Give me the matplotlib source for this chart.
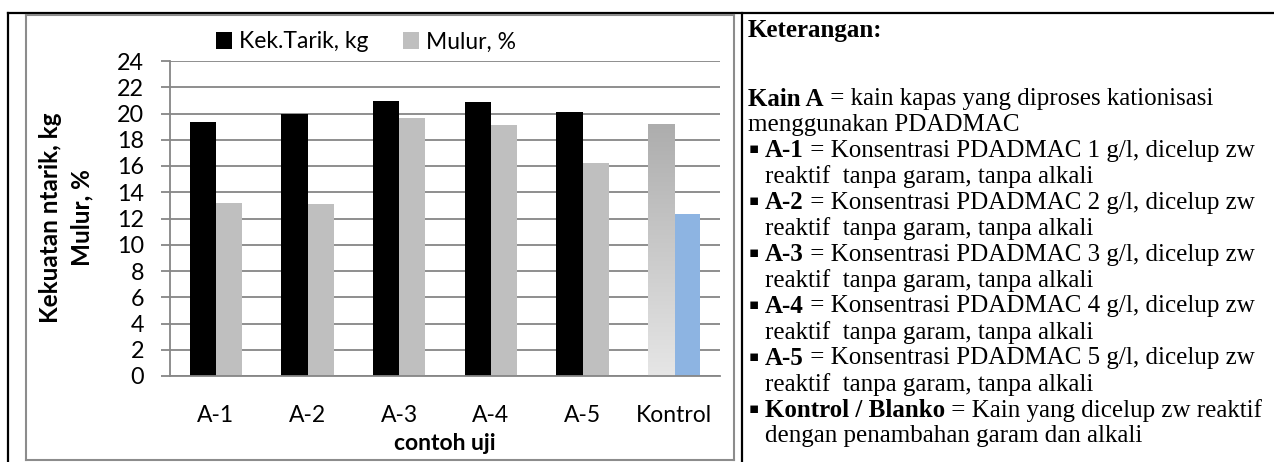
import matplotlib
matplotlib.use("Agg")
import matplotlib.pyplot as plt
import numpy as np
from matplotlib.patches import Patch
from matplotlib.lines import Line2D

categories = ["A-1", "A-2", "A-3", "A-4", "A-5", "Kontrol"]
kek_tarik = [19.35, 19.95, 20.95, 20.9, 20.1, 19.2]
mulur = [13.2, 13.1, 19.65, 19.1, 16.2, 12.35]
y_ticks = list(range(0, 25, 2))
series_labels = ["Kek.Tarik, kg", "Mulur, %"]
ylabel_text = "Kekuatan ntarik, kg\nMulur, %"
xlabel_text = "contoh uji"

notes_title = "Keterangan:"
notes = [
    ("", "Kain A", " = kain kapas yang diproses kationisasi"),
    ("", "", "menggunakan PDADMAC"),
    ("b", "A-1", " = Konsentrasi PDADMAC 1 g/l, dicelup zw"),
    ("i", "", "reaktif  tanpa garam, tanpa alkali"),
    ("b", "A-2", " = Konsentrasi PDADMAC 2 g/l, dicelup zw"),
    ("i", "", "reaktif  tanpa garam, tanpa alkali"),
    ("b", "A-3", " = Konsentrasi PDADMAC 3 g/l, dicelup zw"),
    ("i", "", "reaktif  tanpa garam, tanpa alkali"),
    ("b", "A-4", " = Konsentrasi PDADMAC 4 g/l, dicelup zw"),
    ("i", "", "reaktif  tanpa garam, tanpa alkali"),
    ("b", "A-5", " = Konsentrasi PDADMAC 5 g/l, dicelup zw"),
    ("i", "", "reaktif  tanpa garam, tanpa alkali"),
    ("b", "Kontrol / Blanko", " = Kain yang dicelup zw reaktif"),
    ("i", "", "dengan penambahan garam dan alkali"),
]

W, H = 1274, 462
fig = plt.figure(figsize=(W / 100, H / 100), dpi=100)
fig.patch.set_facecolor("white")


def fx(px):
    return px / W


def fy(py):
    return 1 - py / H


# plot area
ax = fig.add_axes([fx(170), fy(376), fx(720) - fx(170), fy(61) - fy(376)])
ax.set_facecolor("white")

x = np.arange(len(categories))
w = 1 / 3.5
grid_c = "#868686"
ax.set_yticks(y_ticks)
for t in y_ticks:
    ax.axhline(t, color=grid_c, lw=1.3, zorder=0)

bars1 = ax.bar(x - w / 2, kek_tarik, w, color="#000000", zorder=2)
bars2 = ax.bar(x + w / 2, mulur, w, color="#bfbfbf", zorder=2)

# Kontrol bars have their own fills
kb = bars1[-1]
kb.set_facecolor("none")
grad = np.linspace(0, 1, 256).reshape(-1, 1)
cmap = matplotlib.colors.LinearSegmentedColormap.from_list("g", ["#e6e6e6", "#adadad"])
bx, by = kb.get_x(), kb.get_y()
im = ax.imshow(grad, extent=(bx, bx + kb.get_width(), by, by + kb.get_height()),
               origin="lower", cmap=cmap, aspect="auto", zorder=2)
im.set_clip_path(kb)
bars2[-1].set_facecolor("#8db4e2")
ax.set_xlim(-0.5, len(categories) - 0.5)
ax.set_ylim(0, 24)

for s in ["top", "right"]:
    ax.spines[s].set_visible(False)
for s in ["left", "bottom"]:
    ax.spines[s].set_color(grid_c)
    ax.spines[s].set_linewidth(1.3)

lab_font = "Lato"
ax.set_xticks(x)
ax.set_xticklabels(categories, fontsize=16.5, family=lab_font)
ax.tick_params(axis="x", length=0, pad=21)
ax.tick_params(axis="y", length=6.5, width=1.3, color=grid_c, pad=12, labelsize=16.8)
for lab in ax.get_yticklabels():
    lab.set_family(lab_font)

fig.text(fx(66), fy(218), ylabel_text, rotation=90, ha="center", va="center",
         multialignment="center", fontsize=17.5, fontweight="bold", family=lab_font,
         linespacing=1.45)
fig.text(fx(445), fy(443), xlabel_text, ha="center", va="center", fontsize=16.5,
         fontweight="bold", family=lab_font)

handles = [Patch(facecolor="#000000"), Patch(facecolor="#bfbfbf")]
fig.legend(handles, series_labels, loc="center", bbox_to_anchor=(fx(366), fy(42)),
           ncol=2, frameon=False, prop={"family": lab_font, "size": 16.5},
           handlelength=0.7, handleheight=0.7, handletextpad=0.3, columnspacing=1.5,
           borderaxespad=0, borderpad=0)


# frames
def fline(x0, y0, x1, y1, c, lw):
    fig.add_artist(Line2D([fx(x0), fx(x1)], [fy(y0), fy(y1)], color=c, lw=lw,
                          transform=fig.transFigure))


fline(8, 13, W, 13, "black", 1.6)
fline(8, 13, 8, H, "black", 1.6)
fline(742, 13, 742, H, "black", 1.6)
fline(26, 15, 734, 15, "#8c8c8c", 1.5)
fline(26, 15, 26, 460, "#8c8c8c", 1.5)
fline(734, 15, 734, 460, "#8c8c8c", 1.5)
fline(26, 460, 734, 460, "#8c8c8c", 1.5)

# notes panel
serif = ["Liberation Serif", "DejaVu Serif"]
fs = 18
fig.text(fx(748), fy(30), notes_title, fontsize=fs, fontweight="bold", family=serif,
         va="center", ha="left")
y0 = 99
dy = (436 - y0) / (len(notes) - 1)
for i, (kind, bold, rest) in enumerate(notes):
    yy = y0 + i * dy
    if kind == "b":
        fig.text(fx(749), fy(yy - 2), "\u25aa", fontsize=11, family=["DejaVu Sans"],
                 va="center", ha="left")
    xs = 748 if kind == "" else 765
    if bold:
        t1 = fig.text(fx(xs), fy(yy), bold, fontsize=fs, fontweight="bold", family=serif,
                      va="center", ha="left")
        ax.annotate(rest, xy=(1, 0.5), xycoords=t1, va="center", ha="left",
                    fontsize=fs, family=serif, annotation_clip=False)
    else:
        fig.text(fx(xs), fy(yy), rest, fontsize=fs, family=serif, va="center", ha="left")

fig.savefig("out.png", dpi=100, facecolor="white")
